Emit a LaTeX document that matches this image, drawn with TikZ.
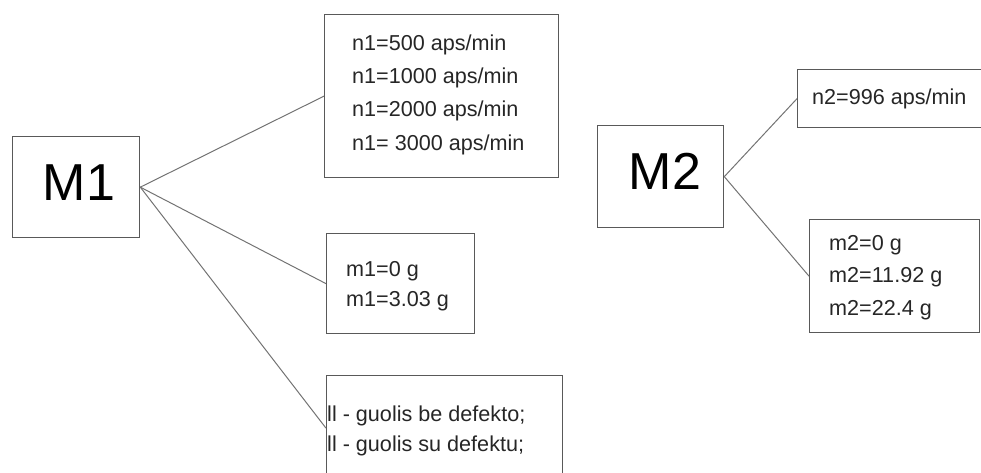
\documentclass[tikz,border=0pt]{standalone}
\usepackage{fontspec}
\setmainfont{Liberation Sans}
\begin{document}
\begin{tikzpicture}[x=1pt,y=-1pt,
  box/.style={draw=black!65, line width=1.3pt, rectangle, inner sep=0pt, anchor=north west},
  conn/.style={draw=black!55, line width=1pt},
  small/.style={anchor=base west, inner sep=0pt, text=black!85, font=\fontsize{21.6}{25}\selectfont},
  big/.style={anchor=base, inner sep=0pt, text=black, font=\fontsize{52}{58}\selectfont}]
\useasboundingbox (0,0) rectangle (981,473);
\clip (0,0) rectangle (981,473);
% boxes
\node[box, minimum width=127pt, minimum height=101pt] (M1) at (12,136) {};
\node[box, minimum width=234pt, minimum height=163pt] (n1box) at (324,14) {};
\node[box, minimum width=148pt, minimum height=100pt] (m1box) at (326,233) {};
\node[box, minimum width=236pt, minimum height=105pt] (gbox) at (326,375) {};
\node[box, minimum width=126pt, minimum height=102pt] (M2) at (597,125) {};
\node[box, minimum width=200pt, minimum height=58pt] (n2box) at (797,69) {};
\node[box, minimum width=170pt, minimum height=113pt] (m2box) at (809,219) {};
% big labels
\node[big] (tM1) at (79,200) {M1};
\node[big] (tM2) at (665,189) {M2};
% texts
\node[small] (t1) at (352,51) {n1=500 aps/min};
\node[small] (t2) at (352,84) {n1=1000 aps/min};
\node[small] (t3) at (352,117) {n1=2000 aps/min};
\node[small] (t4) at (352,150) {n1= 3000 aps/min};
\node[small] (t5) at (346,276) {m1=0 g};
\node[small] (t6) at (346,306) {m1=3.03 g};
\node[small] (t7) at (327,421) {ll - guolis be defekto;};
\node[small] (t8) at (327,451) {ll - guolis su defektu;};
\node[small] (t9) at (812,105) {n2=996 aps/min};
\node[small] (t10) at (829,250) {m2=0 g};
\node[small] (t11) at (829,282) {m2=11.92 g};
\node[small] (t12) at (829,315) {m2=22.4 g};
% connectors
\draw[conn] (M1.east) -- (n1box.west);
\draw[conn] (M1.east) -- (m1box.west);
\draw[conn] (M1.east) -- (gbox.west);
\draw[conn] (M2.east) -- (n2box.west);
\draw[conn] (M2.east) -- (m2box.west);
\end{tikzpicture}
\end{document}
